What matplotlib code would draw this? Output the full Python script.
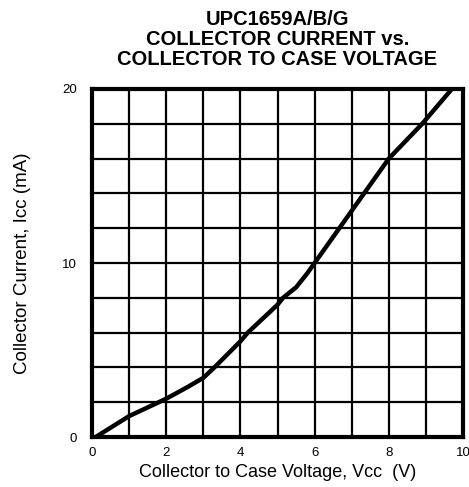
import matplotlib
matplotlib.use('Agg')
import matplotlib.pyplot as plt

# curve
vcc = [0.1, 1.0, 2.0, 2.6, 3.0, 3.3, 4.0, 4.2, 5.0, 5.15, 5.5, 5.8, 6.0, 7.0, 8.0, 8.9, 9.7]
icc = [0.0, 1.2, 2.2, 2.9, 3.4, 4.0, 5.5, 6.0, 7.6, 8.0, 8.6, 9.4, 10.0, 13.0, 16.0, 18.0, 20.0]

xticks = [0, 2, 4, 6, 8, 10]
yticks = [0, 10, 20]

plt.rcParams['font.family'] = ['Liberation Sans', 'DejaVu Sans']

fig = plt.figure(figsize=(4.69, 4.87), dpi=100)
ax = fig.add_axes([92/469, 1-437/487, 371/469, 348/487])

# grid: 1 V by 2 mA
for v in range(1, 10):
    ax.axvline(v, color='black', lw=1.6, zorder=1)
for i in range(2, 20, 2):
    ax.axhline(i, color='black', lw=1.6, zorder=1)

ax.plot(vcc, icc, color='black', lw=3.2, solid_joinstyle='round', zorder=3)

ax.set_xlim(0, 10)
ax.set_ylim(0, 20)
ax.set_xticks(xticks)
ax.set_yticks(yticks)
ax.tick_params(length=0, labelsize=9.5, pad=7)
ax.tick_params(axis='y', pad=11)
for s in ax.spines.values():
    s.set_linewidth(3)

ax.set_xlabel('Collector to Case Voltage, Vcc  (V)', fontsize=13, labelpad=4)
ax.set_ylabel('Collector Current, Icc (mA)', fontsize=13.5, labelpad=22)
ax.set_title('UPC1659A/B/G\nCOLLECTOR CURRENT vs.\nCOLLECTOR TO CASE VOLTAGE',
             fontsize=14.5, fontweight='bold', linespacing=1.08, pad=17)

fig.savefig('out.png', dpi=100)
